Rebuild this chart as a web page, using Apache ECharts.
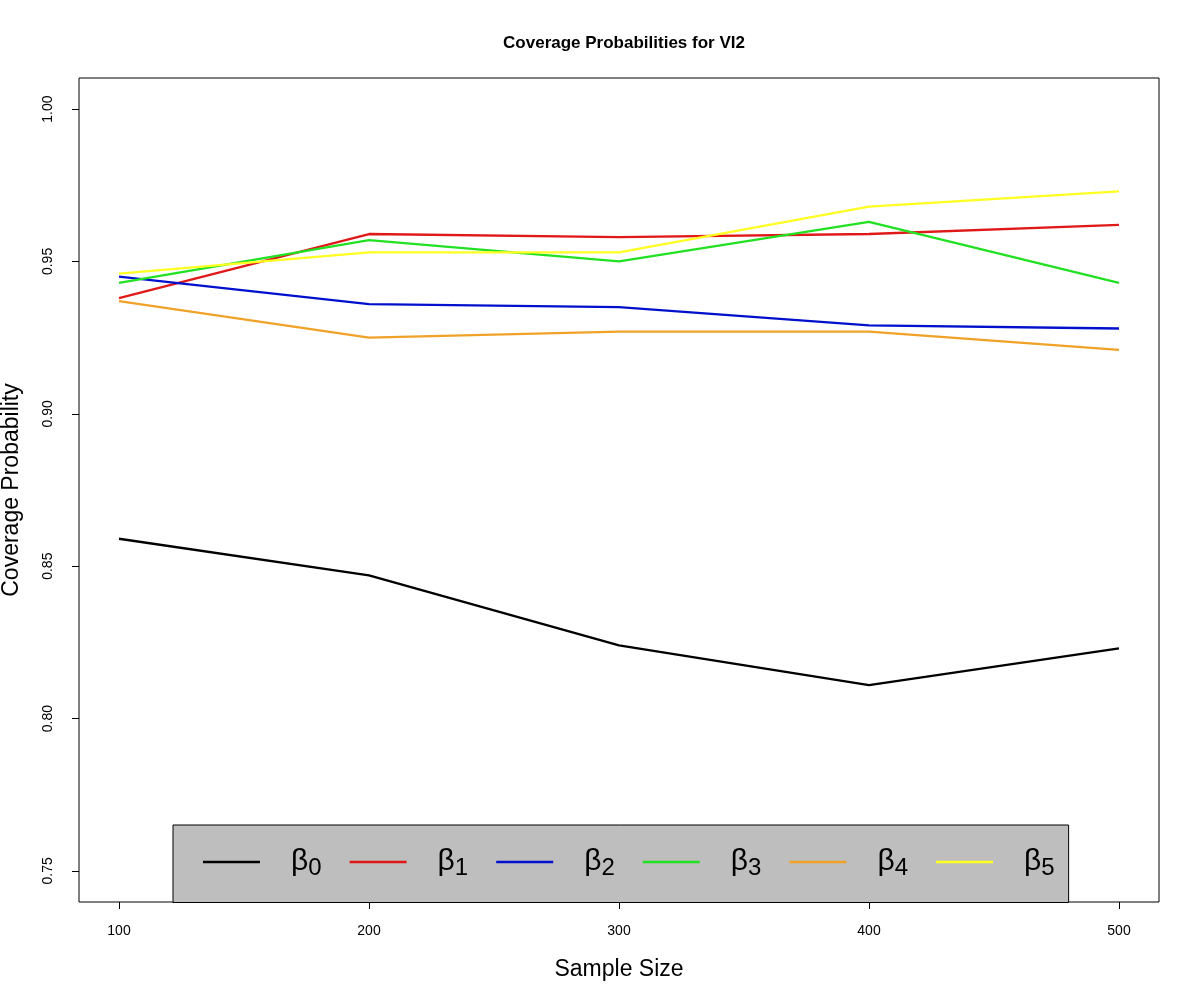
<!DOCTYPE html>
<html>
<head>
<meta charset="utf-8">
<script src="https://cdn.jsdelivr.net/npm/echarts@6/dist/echarts.min.js"></script>
<style>
html, body { margin: 0; padding: 0; background: #fff; }
#chart { width: 1200px; height: 1000px; }
</style>
</head>
<body>
<div id="chart"></div>
<script>
// 样本量
var sampleSizes = [100, 200, 300, 400, 500];
// 各系数的覆盖概率
var beta0 = [0.859, 0.847, 0.824, 0.811, 0.823];
var beta1 = [0.938, 0.959, 0.958, 0.959, 0.962];
var beta2 = [0.945, 0.936, 0.935, 0.929, 0.928];
var beta3 = [0.943, 0.957, 0.950, 0.963, 0.943];
var beta4 = [0.937, 0.925, 0.927, 0.927, 0.921];
var beta5 = [0.946, 0.953, 0.953, 0.968, 0.973];
var seriesNames = ["β0", "β1", "β2", "β3", "β4", "β5"];
var seriesColors = ["#000000", "#e01818", "#0010cc", "#22e022", "#f0a228", "#ffff22"];
// 刻度
var xTicks = [100, 200, 300, 400, 500];
var yTicks = [0.75, 0.80, 0.85, 0.90, 0.95, 1.00];

var allData = [beta0, beta1, beta2, beta3, beta4, beta5];
var FONT = "Liberation Sans, Arial, sans-serif";

var chart = echarts.init(document.getElementById("chart"));

chart.setOption({
	animation: false,
	backgroundColor: "#fff",
	title: {
		text: "Coverage Probabilities for VI2",
		left: 619,
		textAlign: "center",
		top: 30,
		textStyle: {
			fontFamily: FONT,
			fontWeight: "bold",
			fontSize: 17,
			color: "#000"
		}
	},
	grid: {
		left: 79,
		right: 41,
		top: 78,
		bottom: 98,
		outerBoundsMode: "none",
		containLabel: false,
		show: true,
		borderColor: "#000",
		borderWidth: 1,
		backgroundColor: "transparent"
	},
	legend: {
		left: 173,
		top: 825,
		orient: "horizontal",
		backgroundColor: "#bebebe",
		borderColor: "#000",
		borderWidth: 1,
		borderRadius: 0,
		padding: [22, 14, 22, 30],
		icon: "rect",
		itemWidth: 57,
		itemHeight: 2.5,
		itemGap: 28,
		data: seriesNames,
		formatter: function (name) {
			return "{b|β}{s|" + name.slice(1) + "}";
		},
		textStyle: {
			padding: [0, 0, 0, 26],
			rich: {
				b: { fontFamily: FONT, fontSize: 30, color: "#000" },
				s: { fontFamily: FONT, fontSize: 24, color: "#000", padding: [13, 0, 0, 0] }
			}
		}
	},
	xAxis: {
		type: "value",
		min: 84,
		max: 516,
		name: "Sample Size",
		nameLocation: "middle",
		nameGap: 56,
		nameTextStyle: { fontFamily: FONT, fontSize: 23, color: "#000" },
		axisLine: { show: false },
		splitLine: { show: false },
		axisTick: {
			show: true,
			length: 7,
			lineStyle: { color: "#000" },
			customValues: xTicks
		},
		axisLabel: {
			fontFamily: FONT,
			fontSize: 14,
			color: "#000",
			margin: 22,
			customValues: xTicks
		}
	},
	yAxis: {
		type: "value",
		min: 0.7398,
		max: 1.0102,
		name: "Coverage Probability",
		nameLocation: "middle",
		nameGap: 56,
		nameRotate: 90,
		nameTextStyle: { fontFamily: FONT, fontSize: 23, color: "#000" },
		axisLine: { show: false },
		splitLine: { show: false },
		axisTick: {
			show: true,
			length: 7,
			lineStyle: { color: "#000" },
			customValues: yTicks
		},
		axisLabel: {
			fontFamily: FONT,
			fontSize: 14,
			color: "#000",
			rotate: 90,
			margin: 24,
			customValues: yTicks,
			formatter: function (v) { return v.toFixed(2); }
		}
	},
	series: allData.map(function (d, i) {
		return {
			name: seriesNames[i],
			type: "line",
			symbol: "none",
			data: sampleSizes.map(function (x, j) { return [x, d[j]]; }),
			itemStyle: { color: seriesColors[i] },
			lineStyle: { color: seriesColors[i], width: 2.3 }
		};
	})
});
window.addEventListener("resize", chart.resize);
</script>
</body>
</html>
